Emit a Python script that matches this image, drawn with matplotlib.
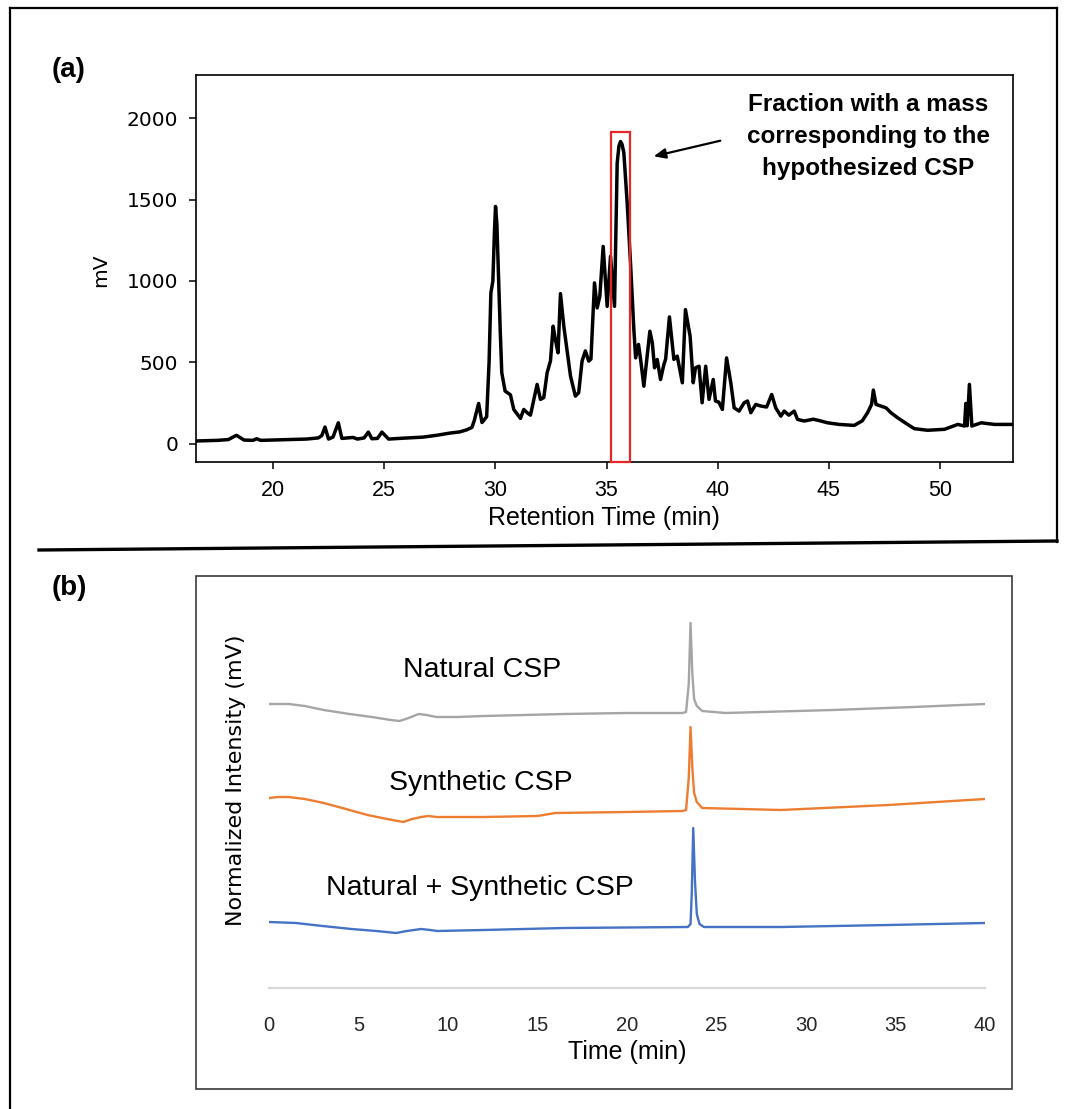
import numpy as np
import matplotlib
matplotlib.use("Agg")
import matplotlib.pyplot as plt
from matplotlib.lines import Line2D
from matplotlib.patches import Rectangle

# ---- data: panel (a) crude fraction chromatogram ----
rt_a = [16.5, 17.5, 18.0, 18.2, 18.36, 18.55, 18.7, 19.1, 19.27, 19.45, 20.0, 20.77, 21.5, 22.04,
        22.2, 22.34, 22.5, 22.7, 22.94, 23.1, 23.35, 23.6, 23.8, 24.1, 24.29, 24.45, 24.7, 24.9,
        25.2, 25.8, 26.76, 27.4, 27.97, 28.4, 28.72, 28.95, 29.05, 29.25, 29.4, 29.61, 29.72,
        29.8, 29.89, 29.96, 30.01, 30.07, 30.15, 30.22, 30.29, 30.44, 30.68, 30.83, 31.13, 31.28,
        31.43, 31.58, 31.88, 32.03, 32.18, 32.33, 32.48, 32.6, 32.7, 32.82, 32.93, 33.08, 33.23,
        33.38, 33.6, 33.75, 33.9, 34.05, 34.2, 34.3, 34.46, 34.58, 34.7, 34.85, 35.03, 35.18,
        35.36, 35.48, 35.56, 35.63, 35.7, 35.78, 35.93, 36.08, 36.23, 36.31, 36.44, 36.55, 36.68,
        36.83, 36.95, 37.06, 37.16, 37.28, 37.43, 37.58, 37.66, 37.83, 38.03, 38.18, 38.41, 38.55,
        38.76, 38.9, 39.0, 39.16, 39.3, 39.46, 39.61, 39.8, 39.9, 40.05, 40.21, 40.4, 40.59,
        40.74, 40.96, 41.19, 41.34, 41.49, 41.71, 41.94, 42.2, 42.43, 42.61, 42.84, 42.99, 43.2,
        43.44, 43.59, 43.89, 44.3, 44.64, 44.94, 45.47, 46.14, 46.5, 46.74, 46.92, 47.0, 47.12,
        47.34, 47.57, 47.79, 48.09, 48.54, 48.84, 49.44, 50.2, 50.8, 51.1, 51.16, 51.22, 51.32,
        51.43, 51.85, 52.45, 53.35]
mv_a = [16, 20, 25, 40, 51, 35, 22, 20, 30, 20, 22, 25, 28, 35,
        50, 102, 28, 40, 128, 32, 35, 38, 28, 35, 71, 30, 32, 71,
        28, 33, 40, 52, 65, 72, 85, 100, 140, 247, 130, 165, 500,
        926, 1000, 1300, 1458, 1350, 1000, 700, 436, 323, 300, 210, 155, 210,
        190, 175, 364, 272, 283, 436, 508, 722, 640, 558, 922, 722, 570,
        416, 292, 313, 507, 570, 507, 520, 988, 834, 906, 1212, 844, 1151,
        844, 1724, 1830, 1857, 1840, 1788, 1479, 1110, 701, 527, 610, 500, 353,
        538, 691, 620, 466, 517, 394, 486, 520, 779, 518, 538, 374, 824,
        660, 374, 466, 476, 251, 476, 272, 394, 262, 255, 210, 527, 374,
        220, 200, 251, 262, 190, 241, 231, 225, 302, 220, 169, 200, 175,
        200, 149, 139, 150, 139, 128, 118, 112, 140, 190, 241, 329, 241,
        231, 220, 190, 159, 118, 92, 82, 88, 118, 108, 247, 110, 364,
        108, 128, 118, 118]
fraction_rt = (35.2, 36.06)
fraction_top = 1914

# ---- data: panel (b) co-injection traces (relative intensity) ----
t_nat = [0, 0.6, 1.1, 2.0, 3.06, 4.5, 5.75, 6.8, 7.3, 7.8, 8.36, 8.8, 9.35, 10.5, 12.0, 16.5,
         20.0, 23.1, 23.3, 23.45, 23.55, 23.65, 23.75, 23.9, 24.2, 25.5, 31.5, 36.0, 40.0]
i_nat = [0, 0, 0, -2, -6, -10, -13, -16, -17, -14, -10, -11, -13, -13, -12, -10,
         -9, -9, -8, 20, 81, 30, 5, -2, -7, -9, -6, -3, 0]
t_syn = [0, 0.5, 1.1, 2.0, 3.06, 4.3, 5.5, 6.6, 7.5, 8.0, 8.5, 8.9, 9.35, 12.0, 15.0, 16.0,
         20.0, 23.1, 23.3, 23.45, 23.55, 23.65, 23.75, 23.9, 24.2, 28.6, 34.6, 40.0]
i_syn = [0, 1, 1, -1, -5, -11, -17, -21, -24, -21, -19, -18, -19, -19, -18, -15,
         -14, -13, -12, 20, 71, 30, 5, -4, -10, -12, -7, -1]
t_mix = [0, 1.5, 3.0, 4.6, 6.0, 7.1, 7.7, 8.5, 9.0, 9.4, 12.0, 16.5, 23.4, 23.55, 23.62, 23.7,
         23.8, 23.9, 24.05, 24.3, 28.6, 34.6, 40.0]
i_mix = [0, -1, -4, -7, -9, -11, -9, -7, -8, -9, -8, -6, -5, -2, 30, 94,
         40, 8, -2, -5, -5, -3, -1]
trace_labels = ["Natural CSP", "Synthetic CSP", "Natural + Synthetic CSP"]
trace_colors = ["#a5a5a5", "#ed7d31", "#4472c4"]
trace_offsets = [284, 190, 66]

W, H = 1073, 1109
fig = plt.figure(figsize=(W / 100, H / 100), dpi=100)


def fx(px):
    return px / W


def fy(py):
    return 1 - py / H


sans = "Liberation Sans"

# outer frame and separator
fig.add_artist(Line2D([fx(10), fx(10)], [fy(8), fy(1109)], color="black", lw=1.6))
fig.add_artist(Line2D([fx(10), fx(1057)], [fy(8), fy(8)], color="black", lw=1.6))
fig.add_artist(Line2D([fx(1057), fx(1057)], [fy(8), fy(542)], color="black", lw=1.6))
fig.add_artist(Line2D([fx(39), fx(1057)], [fy(550), fy(541)], color="black", lw=2.4))

fig.text(fx(69), fy(70), "(a)", fontsize=20, fontweight="bold", family=sans,
         ha="center", va="center")
fig.text(fx(69), fy(588), "(b)", fontsize=20, fontweight="bold", family=sans,
         ha="center", va="center")

# ---- panel (a) ----
ax_a = fig.add_axes([fx(196), fy(462), fx(1013) - fx(196), (462 - 75) / H])
ax_a.plot(rt_a, mv_a, color="black", lw=2.5, solid_joinstyle="round")
ax_a.set_xlim(16.54, 53.28)
ax_a.set_ylim(-113, 2266)
ax_a.set_xticks([20, 25, 30, 35, 40, 45, 50])
ax_a.set_yticks([0, 500, 1000, 1500, 2000])
ax_a.tick_params(axis="y", labelsize=14.5, length=5.3, width=1.1, pad=7.5)
ax_a.tick_params(axis="x", labelsize=15.5, length=5.3, width=1.1, pad=8)
for lab in ax_a.get_xticklabels():
    lab.set_family(sans)
for sp in ax_a.spines.values():
    sp.set_linewidth(1.2)
ax_a.add_patch(Rectangle((fraction_rt[0], -113), fraction_rt[1] - fraction_rt[0],
                         fraction_top + 113, fill=False, edgecolor="#e8262a", lw=1.6,
                         clip_on=False, zorder=3))
ax_a.annotate("", xy=(37.0, 1762), xytext=(40.24, 1866),
              arrowprops=dict(arrowstyle="-|>,head_length=0.7,head_width=0.3",
                              color="black", lw=1.6))
ax_a.text(46.77, 1885, "Fraction with a mass\ncorresponding to the\nhypothesized CSP",
          ha="center", va="center", fontsize=17.5, fontweight="bold", family=sans,
          linespacing=1.5)
fig.text(fx(604), fy(518), "Retention Time (min)", fontsize=18, family=sans,
         ha="center", va="center")
fig.text(fx(101), fy(270), "mV", fontsize=14.5, rotation=90, ha="center", va="center")

# ---- panel (b) ----
fig.add_artist(Rectangle((fx(196), fy(1089)), fx(1012) - fx(196), (1089 - 576) / H,
                         fill=False, edgecolor="#3a3a3a", lw=1.2))
ax_b = fig.add_axes([fx(269), fy(988), fx(985) - fx(269), (988 - 590) / H])
traces = [(t_nat, i_nat), (t_syn, i_syn), (t_mix, i_mix)]
for (t, v), c, off in zip(traces, trace_colors, trace_offsets):
    ax_b.plot(t, np.array(v) + off, color=c, lw=1.7, solid_joinstyle="round")
ax_b.set_xlim(0, 40)
ax_b.set_ylim(0, 398)
ax_b.set_xticks(range(0, 41, 5))
ax_b.set_yticks([])
ax_b.tick_params(axis="x", length=0, pad=20, labelsize=14.5, labelcolor="#262626")
for lab in ax_b.get_xticklabels():
    lab.set_family(sans)
for side in ["top", "left", "right"]:
    ax_b.spines[side].set_visible(False)
ax_b.spines["bottom"].set_color("#d9d9d9")
ax_b.spines["bottom"].set_linewidth(1.6)
ax_b.patch.set_alpha(0)
label_pos = [(11.9, 318), (11.85, 205), (11.8, 100)]
for txt, (lx, ly) in zip(trace_labels, label_pos):
    ax_b.text(lx, ly, txt, fontsize=20.5, family=sans, ha="center", va="center")
fig.text(fx(627), fy(1052), "Time (min)", fontsize=18, family=sans,
         ha="center", va="center")
fig.text(fx(236), fy(780), "Normalized Intensity (mV)", fontsize=16, rotation=90,
         ha="center", va="center")

fig.savefig("out.png", dpi=100)
